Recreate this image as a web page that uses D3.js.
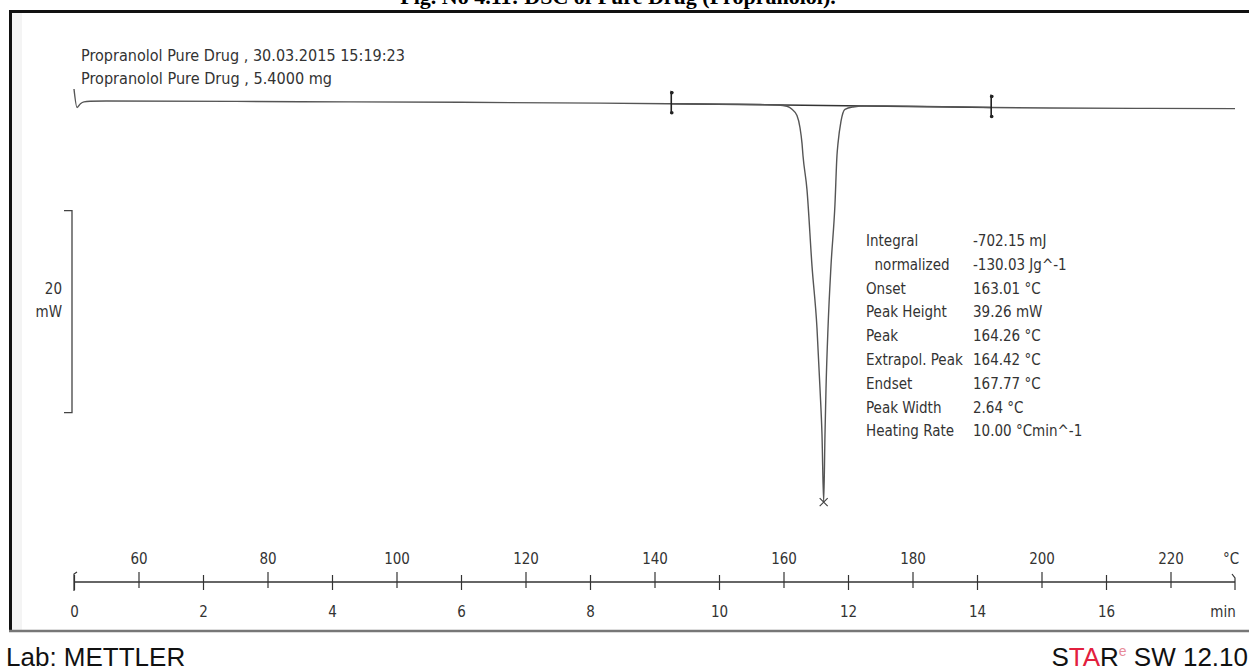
<!DOCTYPE html>
<html><head><meta charset="utf-8">
<script src="https://cdn.jsdelivr.net/npm/d3@7/dist/d3.min.js"></script>
<style>
html,body{margin:0;padding:0;background:#fff;}
svg{display:block;}
.sw{font-family:"Liberation Sans Narrow","DejaVu Sans Condensed","Liberation Sans",Arial,sans-serif;fill:#333;}
</style></head><body>
<svg id="chart" width="1249" height="671"></svg>
<script>
// DSC heat-flow trace: time (min) and heat flow (mW), endotherm plotted downward
const timeMin = [0.00, 0.047, 0.10, 0.155, 0.25, 0.5, 3.5, 6.0, 8.16, 9.26, 10.1, 10.64,
  10.915, 11.054, 11.132, 11.209, 11.256, 11.287, 11.302, 11.364, 11.442, 11.519, 11.566, 11.597,
  11.623,
  11.643, 11.659, 11.690, 11.736, 11.798, 11.829, 11.845, 11.891, 11.953, 12.078, 12.295,
  12.84, 13.74, 14.22, 15.13, 16.68, 18.0];
const heatFlow = [1.19, -0.64, -0.27, -0.09, -0.03, 0.0, -0.07, -0.13, -0.21, -0.27, -0.32, -0.35,
  -0.39, -0.52, -0.82, -1.43, -2.65, -4.20, -5.39, -8.77, -16.35, -22.47, -28.49, -33.06,
  -39.71,
  -33.06, -28.49, -22.47, -16.35, -10.23, -5.39, -4.20, -2.01, -0.82, -0.59, -0.48,
  -0.51, -0.58, -0.64, -0.70, -0.73, -0.75];

// Evaluation limits (min) and peak position (min)
const evalLimits = [9.26, 14.22];
const peakTime = 11.623;

// Axis ticks
const timeTicks = [0, 2, 4, 6, 8, 10, 12, 14, 16];
const tempTicks = [60, 80, 100, 120, 140, 160, 180, 200, 220];
const startTemp = 50;      // °C at t = 0
const heatingRate = 10;    // °C/min
const endTime = 18;        // min
const scaleBarMW = 20;

// Header and evaluation results
const headerLines = ["Propranolol Pure Drug , 30.03.2015 15:19:23", "Propranolol Pure Drug , 5.4000 mg"];
const resultLabels = ["Integral", "  normalized", "Onset", "Peak Height", "Peak", "Extrapol. Peak", "Endset", "Peak Width", "Heating Rate"];
const resultValues = ["-702.15 mJ", "-130.03 Jg^-1", "163.01 °C", "39.26 mW", "164.26 °C", "164.42 °C", "167.77 °C", "2.64 °C", "10.00 °Cmin^-1"];

const svg = d3.select("#chart");

// scales
const x = d3.scaleLinear().domain([0, endTime]).range([74, 1235]);
const xT = d3.scaleLinear().domain([startTemp, startTemp + heatingRate * endTime]).range([74, 1235]);
const y = d3.scaleLinear().domain([0, -20]).range([101, 303]);

// figure caption (runs off the top edge)
svg.append("text").attr("x", 618).attr("y", 4).attr("text-anchor", "middle")
  .attr("font-family", "'Liberation Serif','DejaVu Serif',serif").attr("font-weight", "bold")
  .attr("font-size", 22).attr("fill", "#000")
  .text("Fig. No 4.11: DSC of Pure Drug (Propranolol).");

// frame
svg.append("rect").attr("x", 12).attr("y", 13).attr("width", 10).attr("height", 617)
  .attr("fill", "#f4f4f4");
svg.append("line").attr("x1", 9).attr("x2", 1249).attr("y1", 11.5).attr("y2", 11.5)
  .attr("stroke", "#111").attr("stroke-width", 3);
svg.append("line").attr("x1", 10.5).attr("x2", 10.5).attr("y1", 10).attr("y2", 632)
  .attr("stroke", "#111").attr("stroke-width", 3);
svg.append("line").attr("x1", 9).attr("x2", 1249).attr("y1", 631).attr("y2", 631)
  .attr("stroke", "#777").attr("stroke-width", 2.5);

// header
svg.selectAll("text.hdr").data(headerLines).join("text").attr("class", "hdr sw")
  .attr("x", 81).attr("y", (d, i) => 61 + i * 23)
  .attr("font-size", 15)
  .attr("textLength", (d, i) => i === 0 ? 324 : 251).attr("lengthAdjust", "spacingAndGlyphs")
  .text(d => d);

// scale bar
const barTop = y(-10.85), barBot = y(-10.85 - scaleBarMW);
svg.append("path").attr("d", `M64,${barTop}H72V${barBot}H64`)
  .attr("fill", "none").attr("stroke", "#444").attr("stroke-width", 1.3);
svg.append("text").attr("class", "sw").attr("x", 62).attr("y", (barTop + barBot) / 2 - 18)
  .attr("text-anchor", "end").attr("font-size", 15).text(String(scaleBarMW));
svg.append("text").attr("class", "sw").attr("x", 62).attr("y", (barTop + barBot) / 2 + 5)
  .attr("text-anchor", "end").attr("font-size", 15).text("mW");

// data
const pts = timeMin.map((t, i) => [t, heatFlow[i]]);
const line = d3.line().x(d => x(d[0])).y(d => y(d[1])).curve(d3.curveMonotoneX);

// integration baseline between evaluation limits
const hfAt = t => {
  const i = d3.bisector(d => d[0]).left(pts, t);
  if (i <= 0) return pts[0][1];
  const a = pts[i - 1], b = pts[i];
  return a[1] + (b[1] - a[1]) * (t - a[0]) / (b[0] - a[0]);
};
svg.append("line")
  .attr("x1", x(evalLimits[0])).attr("y1", y(hfAt(evalLimits[0])))
  .attr("x2", x(evalLimits[1])).attr("y2", y(hfAt(evalLimits[1])))
  .attr("stroke", "#333").attr("stroke-width", 1.6);

svg.append("path").datum(pts).attr("d", line)
  .attr("fill", "none").attr("stroke", "#555").attr("stroke-width", 1.4);

// limit markers
evalLimits.forEach(t => {
  const cx = x(t), cy = y(hfAt(t));
  svg.append("path").attr("d", `M${cx + 2},${cy - 11}L${cx},${cy - 12}V${cy + 10}`)
    .attr("fill", "none").attr("stroke", "#222").attr("stroke-width", 1.6);
  svg.append("circle").attr("cx", cx + 0.5).attr("cy", cy - 11).attr("r", 1.8).attr("fill", "#222");
  svg.append("circle").attr("cx", cx + 0.5).attr("cy", cy + 9).attr("r", 1.8).attr("fill", "#222");
});

// peak cross
const px = x(peakTime), py = y(hfAt(peakTime));
svg.append("path").attr("d", `M${px - 4},${py - 4}L${px + 4},${py + 4}M${px + 4},${py - 4}L${px - 4},${py + 4}`)
  .attr("stroke", "#444").attr("stroke-width", 1.2);

// results table
const rows = svg.append("g").attr("class", "sw").attr("font-size", 15);
rows.selectAll("text.lab").data(resultLabels).join("text").attr("class", "lab")
  .attr("x", 866).attr("y", (d, i) => 246 + i * 23.8).attr("xml:space", "preserve").text(d => d);
rows.selectAll("text.val").data(resultValues).join("text").attr("class", "val")
  .attr("x", 973).attr("y", (d, i) => 246 + i * 23.8).text(d => d);

// time axis (min) below, temperature axis (°C) above
const axisY = 582;
const gTime = svg.append("g").attr("transform", `translate(0,${axisY})`)
  .call(d3.axisBottom(x).tickValues(timeTicks).tickSizeOuter(0).tickSize(8));
gTime.select(".domain").attr("d", `M${x(0)},0H${x(endTime)}`).attr("stroke", "#333").attr("stroke-width", 1.3);
gTime.selectAll(".tick line").attr("y1", -7).attr("y2", 8).attr("stroke", "#333").attr("stroke-width", 1.2);
gTime.selectAll(".tick text").attr("y", 35).attr("dy", 0).attr("class", "sw")
  .attr("font-size", 15).attr("font-family", null);

const gTemp = svg.append("g").attr("transform", `translate(0,${axisY})`)
  .call(d3.axisTop(xT).tickValues(tempTicks).tickSizeOuter(0).tickSize(8));
gTemp.select(".domain").remove();
gTemp.selectAll(".tick line").attr("y1", -10).attr("y2", 6).attr("stroke", "#333").attr("stroke-width", 1.2);
gTemp.selectAll(".tick text").attr("y", -18).attr("dy", 0).attr("class", "sw")
  .attr("font-size", 15).attr("font-family", null);

// axis end marks
svg.append("path").attr("d", `M${x(0)},${axisY + 9}V${axisY - 8}l3,-2`)
  .attr("fill", "none").attr("stroke", "#333").attr("stroke-width", 1.2);
svg.append("path").attr("d", `M${x(endTime)},${axisY + 8}V${axisY - 4}l-3,-4`)
  .attr("fill", "none").attr("stroke", "#333").attr("stroke-width", 1.2);
svg.append("text").attr("class", "sw").attr("x", x(endTime) - 4).attr("y", axisY - 18)
  .attr("text-anchor", "middle").attr("font-size", 15).text("°C");
svg.append("text").attr("class", "sw").attr("x", x(endTime) - 12).attr("y", axisY + 35)
  .attr("text-anchor", "middle").attr("font-size", 15).text("min");

// footer
svg.append("text").attr("x", 6).attr("y", 666)
  .attr("font-family", "'Liberation Sans',Arial,sans-serif").attr("font-size", 26).attr("fill", "#111")
  .text("Lab: METTLER");
const star = svg.append("text").attr("x", 1248).attr("y", 666).attr("text-anchor", "end")
  .attr("font-family", "'Liberation Sans',Arial,sans-serif").attr("font-size", 26).attr("fill", "#111");
star.append("tspan").text("S");
star.append("tspan").attr("fill", "#e2203e").text("TA");
star.append("tspan").text("R");
star.append("tspan").attr("fill", "#e88a98").attr("font-size", 14).attr("dy", -10).text("e");
star.append("tspan").attr("dy", 10).text(" SW 12.10");
</script>
</body></html>
